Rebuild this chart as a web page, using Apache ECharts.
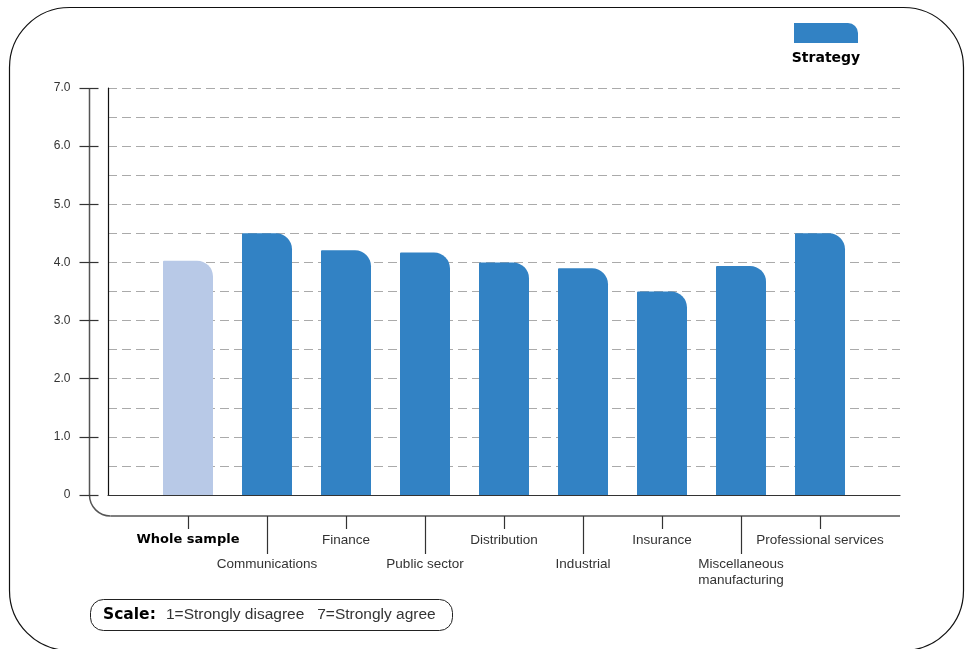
<!DOCTYPE html>
<html>
<head>
<meta charset="utf-8">
<script src="https://cdn.jsdelivr.net/npm/echarts@6/dist/echarts.min.js"></script>
<style>
html,body{margin:0;padding:0;background:#fff;}
#main{width:972px;height:649px;}
</style>
</head>
<body>
<div id="main"></div>
<script>
var categories = ['Whole sample', 'Communications', 'Finance', 'Public sector', 'Distribution', 'Industrial', 'Insurance', 'Miscellaneous\nmanufacturing', 'Professional services'];
var values = [4.03, 4.5, 4.21, 4.17, 4.0, 3.9, 3.5, 3.94, 4.5];
var yTickLabels = ['0', '1.0', '2.0', '3.0', '4.0', '5.0', '6.0', '7.0'];
var seriesName = 'Strategy';
var scaleNote = '1=Strongly disagree   7=Strongly agree';

var BLUE = '#3282c4', LIGHT = '#b8c9e7';
var chart = echarts.init(document.getElementById('main'), null, {renderer: 'canvas'});

function catLabel(v, i) { return i === 0 ? '{b|' + v + '}' : v; }
var labelBase = {
  color: '#333', fontSize: 13.5, fontFamily: 'Liberation Sans, Arial, sans-serif', lineHeight: 16,
  formatter: catLabel,
  rich: { b: { fontFamily: 'DejaVu Sans', fontWeight: 'bold', fontSize: 13, color: '#000', lineHeight: 16 } }
};

var option = {
  animation: false,
  backgroundColor: '#fff',
  grid: [
    {left: 108, right: 72, top: 88, bottom: 154},
    {left: 148.5, right: 112.5, top: 88, bottom: 154},
    {left: 89.5, right: 72, top: 88, bottom: 154}
  ],
  xAxis: [
    {gridIndex: 0, type: 'value', min: 0, max: 1,
     axisLine: {show: true, onZero: false, lineStyle: {color: '#333', width: 1.2}},
     axisTick: {show: false}, axisLabel: {show: false}, splitLine: {show: false}},
    {gridIndex: 1, type: 'category', data: categories, position: 'bottom', offset: 21,
     axisLine: {show: false, onZero: false},
     axisTick: {show: true, alignWithLabel: true, length: 13, interval: function (i) { return i % 2 === 0; }, lineStyle: {color: '#333', width: 1.2}},
     axisLabel: Object.assign({}, labelBase, {margin: 16, interval: function (i) { return i % 2 === 0; }})},
    {gridIndex: 1, type: 'category', data: categories, position: 'bottom', offset: 21,
     axisLine: {show: false, onZero: false},
     axisTick: {show: true, alignWithLabel: true, length: 38, interval: function (i) { return i % 2 === 1; }, lineStyle: {color: '#333', width: 1.2}},
     axisLabel: Object.assign({}, labelBase, {margin: 40, interval: function (i) { return i % 2 === 1; }})},
    {gridIndex: 2, type: 'value', min: 0, max: 1, show: false}
  ],
  yAxis: [
    {gridIndex: 0, type: 'value', min: 0, max: 7, interval: 0.5, position: 'left',
     axisLine: {show: true, onZero: false, lineStyle: {color: '#111', width: 1.2}},
     axisTick: {show: false}, axisLabel: {show: false},
     splitLine: {show: true, lineStyle: {color: '#aaa', type: [9, 5], width: 1.2}}},
    {gridIndex: 2, type: 'value', min: 0, max: 7, interval: 1, position: 'left',
     axisLine: {show: false, onZero: false},
     axisTick: {show: true, length: 10, lineStyle: {color: '#333', width: 1.2}},
     axisLabel: {margin: 19, color: '#333', fontSize: 12, fontFamily: 'Liberation Sans, Arial, sans-serif',
       formatter: function (v) { return yTickLabels[Math.round(v)]; }},
     splitLine: {show: false}},
    {gridIndex: 1, type: 'value', min: 0, max: 7, show: false},
    {gridIndex: 2, type: 'value', min: 0, max: 7, interval: 1, position: 'left',
     axisLine: {show: false, onZero: false},
     axisTick: {show: true, inside: true, length: 9, lineStyle: {color: '#333', width: 1.2}},
     axisLabel: {show: false}, splitLine: {show: false}}
  ],
  series: [{
    name: seriesName, type: 'bar', xAxisIndex: 1, yAxisIndex: 2, barWidth: 50, silent: true,
    itemStyle: {borderRadius: [1, 16, 0, 0]},
    data: values.map(function (v, i) { return {value: v, itemStyle: {color: i === 0 ? LIGHT : BLUE}}; })
  }],
  graphic: [
    {type: 'rect', shape: {x: 9.5, y: 7.5, width: 954, height: 643, r: 60}, style: {fill: 'none', stroke: '#111', lineWidth: 1.2}, silent: true},
    {type: 'line', shape: {x1: 89.5, y1: 88, x2: 89.5, y2: 495}, style: {stroke: '#555', lineWidth: 1.5}, silent: true},
    {type: 'arc', shape: {cx: 110.5, cy: 495, r: 21, startAngle: Math.PI / 2, endAngle: Math.PI, clockwise: true}, style: {fill: 'none', stroke: '#555', lineWidth: 1.5}, silent: true},
    {type: 'line', shape: {x1: 110.5, y1: 516, x2: 900, y2: 516}, style: {stroke: '#555', lineWidth: 1.5}, silent: true},
    {type: 'rect', shape: {x: 794, y: 23, width: 64, height: 20, r: [0, 10, 0, 0]}, style: {fill: BLUE}, silent: true},
    {type: 'text', x: 826, y: 58, style: {text: seriesName, fill: '#000', font: 'bold 14px "DejaVu Sans"', textAlign: 'center', textVerticalAlign: 'middle'}, silent: true},
    {type: 'rect', shape: {x: 90.5, y: 599.5, width: 362, height: 31, r: 13}, style: {fill: 'none', stroke: '#222', lineWidth: 1}, silent: true},
    {type: 'text', x: 103, y: 615, style: {text: 'Scale:', fill: '#000', font: 'bold 15.5px "DejaVu Sans"', textVerticalAlign: 'middle'}, silent: true},
    {type: 'text', x: 166, y: 615, style: {text: scaleNote, fill: '#333', font: '15.5px "Liberation Sans", Arial, sans-serif', textVerticalAlign: 'middle'}, silent: true}
  ]
};
chart.setOption(option);
</script>
</body>
</html>
